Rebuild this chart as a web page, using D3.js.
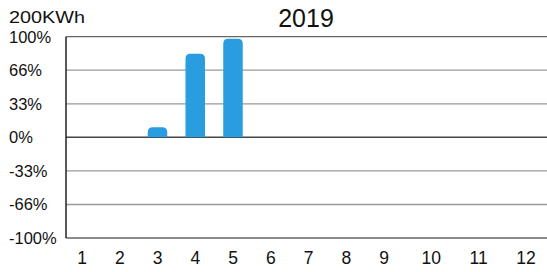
<!DOCTYPE html>
<html>
<head>
<meta charset="utf-8">
<script src="https://cdn.jsdelivr.net/npm/d3@7/dist/d3.min.js"></script>
<style>
  html, body { margin: 0; padding: 0; background: #fff; }
  svg { display: block; }
  text { font-family: "Liberation Sans", Arial, sans-serif; fill: #111; }
</style>
</head>
<body>
<svg id="chart" width="547" height="272"></svg>
<script>
const months = [1, 2, 3, 4, 5, 6, 7, 8, 9, 10, 11, 12];
const values = [0, 0, 10, 83, 98, 0, 0, 0, 0, 0, 0, 0];
const yTickValues = [100, 66.7, 33.3, 0, -33.3, -66.7, -100];
const yTickLabels = ["100%", "66%", "33%", "0%", "-33%", "-66%", "-100%"];
const title = "2019";
const unitLabel = "200KWh";

const svg = d3.select("#chart");
const W = 547, H = 272;
const plot = { left: 66, right: 547, top: 36.7, bottom: 238 };

const y = d3.scaleLinear().domain([-100, 100]).range([plot.bottom, plot.top]);
const x = d3.scaleLinear().domain([1, 9, 12]).range([82, 384, 526]);

// gridlines
const strong = new Set([100, 0, -100]);
svg.append("g").selectAll("line").data(yTickValues).join("line")
  .attr("x1", plot.left).attr("x2", plot.right)
  .attr("y1", d => y(d)).attr("y2", d => y(d))
  .attr("stroke", d => d === 0 ? "#444" : (strong.has(d) ? "#666" : "#999"))
  .attr("stroke-width", d => d === 0 ? 1.5 : 1.3);

// y labels
svg.append("g").selectAll("text").data(yTickValues).join("text")
  .attr("x", 9)
  .attr("y", d => y(d))
  .attr("dy", "0.36em")
  .attr("font-size", 16.5)
  .text((d, i) => yTickLabels[i]);

// bars with rounded top
const bw = 19.5, r = 5;
function barPath(d) {
  const cx = x(d.m), x0 = cx - bw / 2, x1 = cx + bw / 2;
  const y0 = y(0), y1 = y(d.v);
  const rr = Math.min(r, (y0 - y1) / 2);
  return `M${x0},${y0} V${y1 + rr} Q${x0},${y1} ${x0 + rr},${y1} H${x1 - rr} Q${x1},${y1} ${x1},${y1 + rr} V${y0} Z`;
}
svg.append("g").selectAll("path")
  .data(months.map((m, i) => ({ m, v: values[i] })).filter(d => d.v > 0))
  .join("path")
  .attr("d", barPath)
  .attr("fill", "#2a9de0");

// left axis
svg.append("line")
  .attr("x1", plot.left).attr("x2", plot.left)
  .attr("y1", plot.top).attr("y2", plot.bottom)
  .attr("stroke", "#222").attr("stroke-width", 1.5);

// x labels
svg.append("g").selectAll("text").data(months).join("text")
  .attr("x", d => x(d))
  .attr("y", 264)
  .attr("text-anchor", "middle")
  .attr("font-size", 17.5)
  .text(d => d);

// title
svg.append("text")
  .attr("x", 306).attr("y", 26.5)
  .attr("text-anchor", "middle")
  .attr("font-size", 25)
  .text(title);

// unit label
svg.append("text")
  .attr("transform", "translate(9,23.3) scale(1.2,1)")
  .attr("font-size", 16.5)
  .text(unitLabel);
</script>
</body>
</html>
